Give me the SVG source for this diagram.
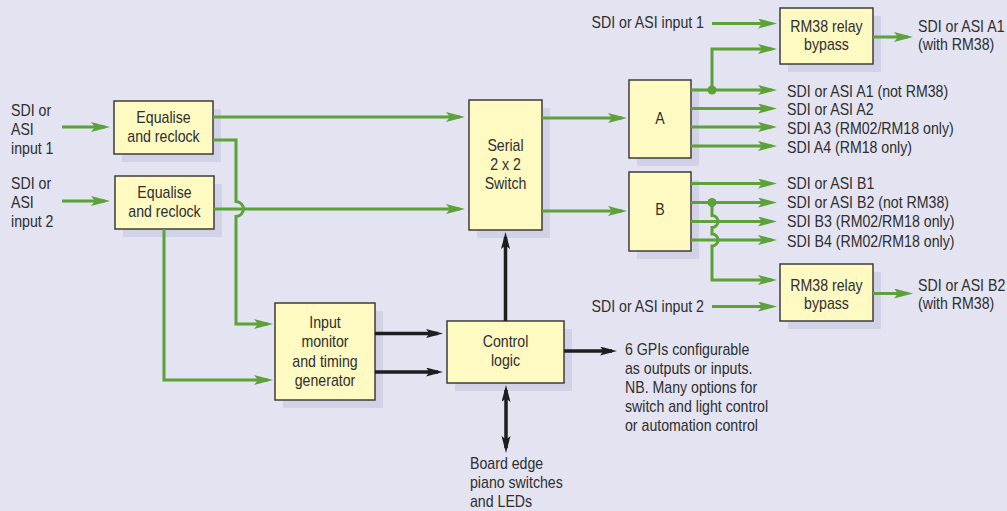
<svg xmlns="http://www.w3.org/2000/svg" width="1007" height="511" viewBox="0 0 1007 511">
<style>
.bg{fill:#e3e3f1}
.sh{fill:#d2d2e7}
.bx{fill:#fffac2;stroke:#3c3c3c;stroke-width:1.5}
.t{font-family:"Liberation Sans",Arial,sans-serif;font-size:16px;fill:#2e2e2e}
.c{text-anchor:middle}
.e{text-anchor:end}
.g{fill:none;stroke:#5ca239;stroke-width:3}
.k{fill:none;stroke:#1e1e1e;stroke-width:3.5}
</style>
<defs>
<marker id="ag" markerUnits="userSpaceOnUse" markerWidth="20" markerHeight="11" refX="14" refY="5" orient="auto"><path d="M0,0 L19,5 L0,10 L4,5 z" fill="#5ca239"/></marker>
<marker id="ak" markerUnits="userSpaceOnUse" markerWidth="18" markerHeight="10" refX="12" refY="4.5" orient="auto-start-reverse"><path d="M0,0 L17,4.5 L0,9 L3.5,4.5 z" fill="#1e1e1e"/></marker>
</defs>
<rect class="bg" x="0" y="0" width="1007" height="511"/>

<g id="eq1"><rect class="sh" x="122" y="109" width="99" height="53"/><rect class="bx" x="114" y="101" width="99" height="53"/>
<text class="t c" transform="translate(163.5,123) scale(.885 1)"><tspan x="0" y="0">Equalise</tspan><tspan x="0" dy="19">and reclock</tspan></text></g>
<g id="eq2"><rect class="sh" x="123" y="184" width="99" height="53"/><rect class="bx" x="115" y="176" width="99" height="53"/>
<text class="t c" transform="translate(164.5,198) scale(.885 1)"><tspan x="0" y="0">Equalise</tspan><tspan x="0" dy="19">and reclock</tspan></text></g>
<g id="switch"><rect class="sh" x="477" y="108" width="73" height="130"/><rect class="bx" x="469" y="100" width="73" height="130"/>
<text class="t c" transform="translate(505.5,151) scale(.885 1)"><tspan x="0" y="0">Serial</tspan><tspan x="0" dy="19">2 x 2</tspan><tspan x="0" dy="19">Switch</tspan></text></g>
<g id="boxA"><rect class="sh" x="637" y="88" width="62" height="78"/><rect class="bx" x="629" y="80" width="62" height="78"/>
<text class="t c" transform="translate(660,124) scale(.885 1)">A</text></g>
<g id="boxB"><rect class="sh" x="637" y="180" width="62" height="79"/><rect class="bx" x="629" y="172" width="62" height="79"/>
<text class="t c" transform="translate(660,215) scale(.885 1)">B</text></g>
<g id="rm38a"><rect class="sh" x="788" y="16" width="93" height="56"/><rect class="bx" x="780" y="8" width="93" height="56"/>
<text class="t c" transform="translate(826.5,31.5) scale(.885 1)"><tspan x="0" y="0">RM38 relay</tspan><tspan x="0" dy="19">bypass</tspan></text></g>
<g id="rm38b"><rect class="sh" x="788" y="272" width="93" height="57"/><rect class="bx" x="780" y="264" width="93" height="57"/>
<text class="t c" transform="translate(826.5,290.5) scale(.885 1)"><tspan x="0" y="0">RM38 relay</tspan><tspan x="0" dy="19">bypass</tspan></text></g>
<g id="monitor"><rect class="sh" x="283" y="311" width="100" height="97"/><rect class="bx" x="275" y="303" width="100" height="97"/>
<text class="t c" transform="translate(325,328) scale(.885 1)"><tspan x="0" y="0">Input</tspan><tspan x="0" dy="19.3">monitor</tspan><tspan x="0" dy="19.3">and timing</tspan><tspan x="0" dy="19.3">generator</tspan></text></g>
<g id="control"><rect class="sh" x="455" y="329" width="117" height="62"/><rect class="bx" x="447" y="321" width="117" height="62"/>
<text class="t c" transform="translate(505.5,347) scale(.885 1)"><tspan x="0" y="0">Control</tspan><tspan x="0" dy="19">logic</tspan></text></g>

<g id="labels">
<text class="t" transform="translate(11,116) scale(.885 1)"><tspan x="0" y="0">SDI or</tspan><tspan x="0" dy="19">ASI</tspan><tspan x="0" dy="19">input 1</tspan></text>
<text class="t" transform="translate(11,189) scale(.885 1)"><tspan x="0" y="0">SDI or</tspan><tspan x="0" dy="19">ASI</tspan><tspan x="0" dy="19">input 2</tspan></text>
<text class="t e" transform="translate(704,28) scale(.885 1)">SDI or ASI input 1</text>
<text class="t e" transform="translate(704,311.5) scale(.885 1)">SDI or ASI input 2</text>
<text class="t" transform="translate(918,31.5) scale(.885 1)"><tspan x="0" y="0">SDI or ASI A1</tspan><tspan x="0" dy="19">(with RM38)</tspan></text>
<text class="t" transform="translate(918,290.5) scale(.885 1)"><tspan x="0" y="0">SDI or ASI B2</tspan><tspan x="0" dy="19">(with RM38)</tspan></text>
<text class="t" transform="translate(787,96.5) scale(.885 1)">SDI or ASI A1 (not RM38)</text>
<text class="t" transform="translate(787,115) scale(.885 1)">SDI or ASI A2</text>
<text class="t" transform="translate(787,133.5) scale(.885 1)">SDI A3 (RM02/RM18 only)</text>
<text class="t" transform="translate(787,152.5) scale(.885 1)">SDI A4 (RM18 only)</text>
<text class="t" transform="translate(787,189) scale(.885 1)">SDI or ASI B1</text>
<text class="t" transform="translate(787,208) scale(.885 1)">SDI or ASI B2 (not RM38)</text>
<text class="t" transform="translate(787,227) scale(.885 1)">SDI B3 (RM02/RM18 only)</text>
<text class="t" transform="translate(787,246.5) scale(.885 1)">SDI B4 (RM02/RM18 only)</text>
<text class="t" transform="translate(625,355) scale(.885 1)"><tspan x="0" y="0">6 GPIs configurable</tspan><tspan x="0" dy="19.1">as outputs or inputs.</tspan><tspan x="0" dy="19.1">NB. Many options for</tspan><tspan x="0" dy="19.1">switch and light control</tspan><tspan x="0" dy="19.1">or automation control</tspan></text>
<text class="t" transform="translate(470,469) scale(.885 1)"><tspan x="0" y="0">Board edge</tspan><tspan x="0" dy="19">piano switches</tspan><tspan x="0" dy="19">and LEDs</tspan></text>
</g>

<g id="connectors">
<path class="g" marker-end="url(#ag)" d="M62,127 H105"/>
<path class="g" marker-end="url(#ag)" d="M62,201 H105"/>
<path class="g" marker-end="url(#ag)" d="M213,117 H460"/>
<path class="g" marker-end="url(#ag)" d="M213,140 H236 V201.5 A7.5,7.5 0 0 1 236,216.5 V324 H268"/>
<path class="g" marker-end="url(#ag)" d="M214,209 H460"/>
<path class="g" marker-end="url(#ag)" d="M164,229 V380 H268"/>
<path class="g" marker-end="url(#ag)" d="M542,118 H622"/>
<path class="g" marker-end="url(#ag)" d="M542,211 H622"/>
<path class="g" marker-end="url(#ag)" d="M691,90 H772"/>
<path class="g" marker-end="url(#ag)" d="M691,108.5 H772"/>
<path class="g" marker-end="url(#ag)" d="M691,127 H772"/>
<path class="g" marker-end="url(#ag)" d="M691,146 H772"/>
<path class="g" marker-end="url(#ag)" d="M712,90 V49 H772"/>
<circle cx="712" cy="90" r="4.5" fill="#5ca239"/>
<path class="g" marker-end="url(#ag)" d="M712,23.5 H772"/>
<path class="g" marker-end="url(#ag)" d="M873,37 H908"/>
<path class="g" marker-end="url(#ag)" d="M691,183.5 H772"/>
<path class="g" marker-end="url(#ag)" d="M691,202.5 H772"/>
<path class="g" marker-end="url(#ag)" d="M691,221.5 H772"/>
<path class="g" marker-end="url(#ag)" d="M691,240 H772"/>
<path class="g" marker-end="url(#ag)" d="M712,202.5 V215.5 A6,6 0 0 1 712,227.5 V234 A6,6 0 0 1 712,246 V280 H772"/>
<circle cx="712" cy="202.5" r="4.5" fill="#5ca239"/>
<path class="g" marker-end="url(#ag)" d="M712,306.5 H772"/>
<path class="g" marker-end="url(#ag)" d="M873,293.5 H908"/>
<path class="k" marker-end="url(#ak)" d="M375,333.5 H438"/>
<path class="k" marker-end="url(#ak)" d="M375,372 H438"/>
<path class="k" marker-end="url(#ak)" d="M505.5,321 V237"/>
<path class="k" marker-end="url(#ak)" d="M564,351 H612"/>
<path class="k" marker-start="url(#ak)" marker-end="url(#ak)" d="M506,390 V448"/>
</g>
</svg>
